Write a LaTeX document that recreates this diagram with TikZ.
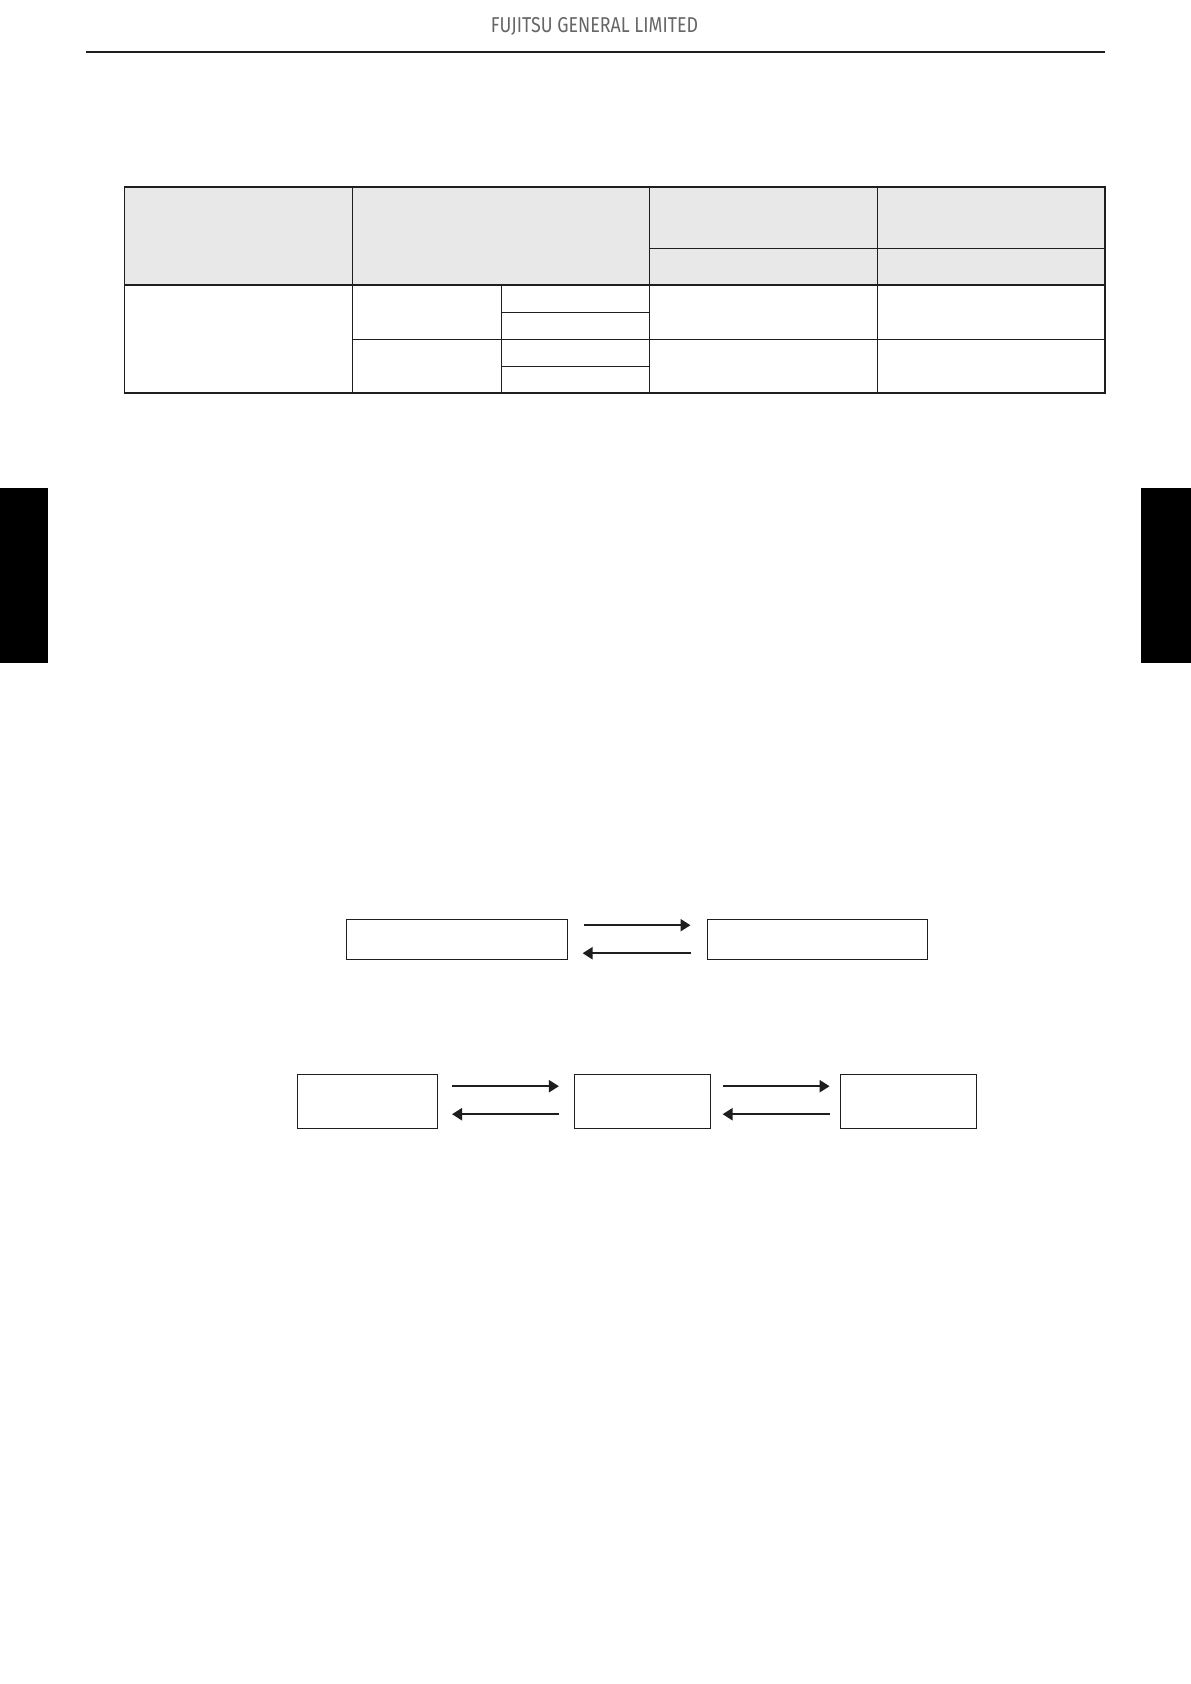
\documentclass[tikz,border=0pt]{standalone}
\usepackage{fontspec}
\newfontfamily\hdrfont{Fira Sans}
\usetikzlibrary{arrows.meta}
\definecolor{hdrgray}{HTML}{666666}
\definecolor{cellgray}{HTML}{E8E8E8}
\definecolor{ink}{HTML}{1E1E1E}
\tikzset{
  pagebox/.style={draw=ink, line width=1pt, minimum height=#1, inner sep=0pt, anchor=north west},
  tline/.style={draw=ink, line width=1.4pt},
  arr/.style={draw=ink, line width=2.2pt, -{Triangle[length=10pt,width=12pt]}},
  tab/.style={fill=black, draw=none},
}
\begin{document}
\begin{tikzpicture}[x=1pt,y=-1pt]
\useasboundingbox (0,0) rectangle (1191,1684);
\fill[white] (0,0) rectangle (1191,1684);
% header
\node[anchor=base, text=hdrgray, inner sep=0pt] (hdr) at (594.5,32)
  {\hdrfont\fontsize{21.5}{24}\selectfont\scalebox{0.83}[1]{FUJITSU GENERAL LIMITED}};
\draw[ink, line width=2.2pt] (86,51.7) -- (1105,51.7);
% side tabs
\fill[tab] (0,488) rectangle (48.3,662.7);
\fill[tab] (1140.8,488) rectangle (1191,662.7);
% table header fill
\fill[cellgray] (124.6,187.1) rectangle (1105,284.8);
% table grid
\draw[tline] (124.6,187.1) rectangle (1105,393);
\draw[tline] (124.6,284.8) -- (1105,284.8);
\draw[tline] (649.6,248.5) -- (1105,248.5);
\draw[tline] (352.4,187.1) -- (352.4,393);
\draw[tline] (649.6,187.1) -- (649.6,393);
\draw[tline] (877.4,187.1) -- (877.4,393);
\draw[tline] (501.5,284.8) -- (501.5,393);
\draw[tline] (501.5,312.4) -- (649.6,312.4);
\draw[tline] (352.4,339.4) -- (1105,339.4);
\draw[tline] (501.5,366.3) -- (649.6,366.3);
% diagram 1
\node[pagebox=40pt, minimum width=220.8pt] (b1) at (345.8,919.3) {};
\node[pagebox=40pt, minimum width=220.4pt] (b2) at (707,919.3) {};
\draw[arr, shorten <=16.5pt, shorten >=16.5pt] ([yshift=14.6pt]b1.east) -- ([yshift=14.6pt]b2.west);
\draw[arr, shorten <=16.5pt, shorten >=15pt] ([yshift=-13.4pt]b2.west) -- ([yshift=-13.4pt]b1.east);
% diagram 2
\node[pagebox=54pt, minimum width=140pt] (c1) at (297.4,1074.1) {};
\node[pagebox=54pt, minimum width=135.8pt] (c2) at (574.2,1074.1) {};
\node[pagebox=54pt, minimum width=135.8pt] (c3) at (840.2,1074.1) {};
\draw[arr, shorten <=13.6pt, shorten >=15.3pt] ([yshift=15.4pt]c1.east) -- ([yshift=15.4pt]c2.west);
\draw[arr, shorten <=15.3pt, shorten >=13.6pt] ([yshift=-12.6pt]c2.west) -- ([yshift=-12.6pt]c1.east);
\draw[arr, shorten <=11.6pt, shorten >=10.6pt] ([yshift=15.4pt]c2.east) -- ([yshift=15.4pt]c3.west);
\draw[arr, shorten <=10.6pt, shorten >=11.6pt] ([yshift=-12.6pt]c3.west) -- ([yshift=-12.6pt]c2.east);
\end{tikzpicture}
\end{document}
